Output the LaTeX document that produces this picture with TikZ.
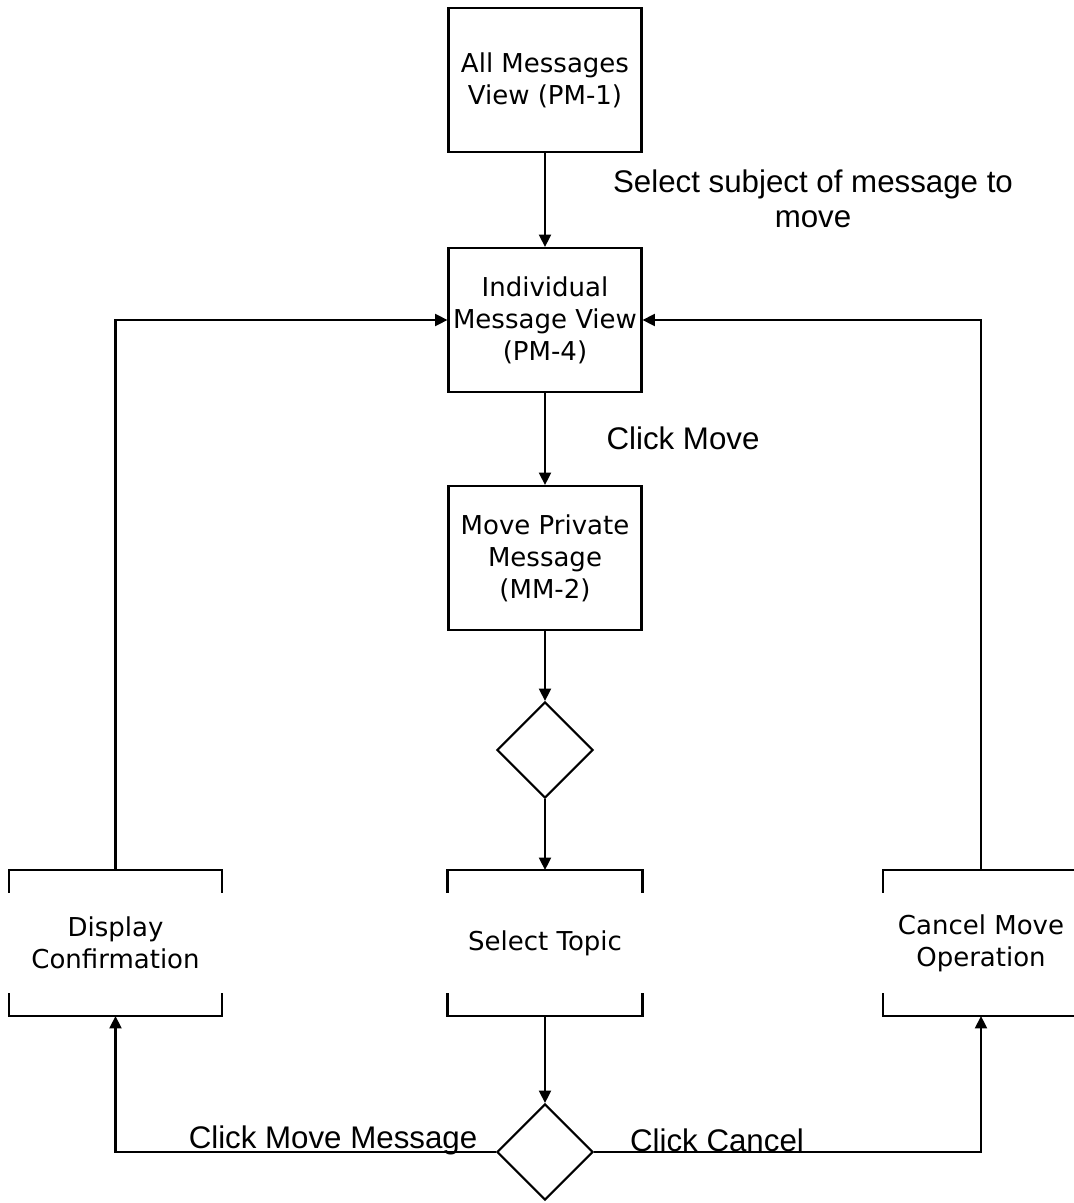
\documentclass[tikz,border=0pt]{standalone}
\usepackage{fontspec}
\setmainfont{DejaVu Sans}
\newfontfamily\lblfont{Liberation Sans}
\usepackage{tikz}
\usetikzlibrary{shapes.geometric, arrows.meta, positioning, calc}

\begin{document}
\begin{tikzpicture}[x=0.02cm, y=-0.02cm,
    line width=1.2pt,
    box/.style={draw, minimum width=3.86cm, minimum height=2.88cm, inner sep=0pt,
      align=center, font=\fontsize{14.8pt}{18.2pt}\selectfont},
    bracketbox/.style={box, draw=none},
    decision/.style={draw, diamond, aspect=1, minimum size=1.92cm, inner sep=0pt},
    arr/.style={-{Triangle[length=7pt, width=6.8pt]}},
    lbl/.style={align=center, font=\lblfont\fontsize{17.8pt}{19.8pt}\selectfont}]
  \useasboundingbox (0,0) rectangle (1073,1203);

  % Screens
  \node[box] (pm1) at (545,80)  {All Messages\\View (PM-1)};
  \node[box] (pm4) at (545,320) {Individual\\Message View\\(PM-4)};
  \node[box] (mm2) at (545,558) {Move Private\\Message\\(MM-2)};

  % Decisions
  \node[decision] (dec1) at (545,750) {};
  \node[decision] (dec2) at (545,1152) {};

  % Actions (open brackets)
  \node[bracketbox, minimum width=4.22cm] (disp) at (115.5,943) {Display\\Confirmation};
  \node[bracketbox] (topic) at (545,943) {Select Topic};
  \node[bracketbox, minimum width=3.88cm] (cancel) at (981,943) {Cancel Move\\Operation};
  \foreach \n in {disp,topic,cancel}{
    \draw ([yshift=-0.46cm]\n.north west) -- (\n.north west) -- (\n.north east) -- ([yshift=-0.46cm]\n.north east);
    \draw ([yshift=0.46cm]\n.south west) -- (\n.south west) -- (\n.south east) -- ([yshift=0.46cm]\n.south east);
  }

  % Flow
  \draw[arr] (pm1) -- (pm4);
  \draw[arr] (pm4) -- (mm2);
  \draw[arr] (mm2) -- (dec1);
  \draw[arr] (dec1) -- (topic);
  \draw[arr] (topic) -- (dec2);
  \draw[arr] (dec2.west) -| (disp.south);
  \draw[arr] (dec2.east) -| (cancel.south);
  \draw[arr] (disp.north) |- (pm4.west);
  \draw[arr] (cancel.north) |- (pm4.east);

  % Labels
  \node[lbl] (selLbl) at (813,199) {Select subject of message to\\move};
  \node[lbl] (moveLbl) at (683,438) {Click Move};
  \node[lbl] (okLbl) at (333,1140) {Click Move Message};
  \node[lbl] (cancelLbl) at (717,1140) {Click Cancel};
\end{tikzpicture}
\end{document}
